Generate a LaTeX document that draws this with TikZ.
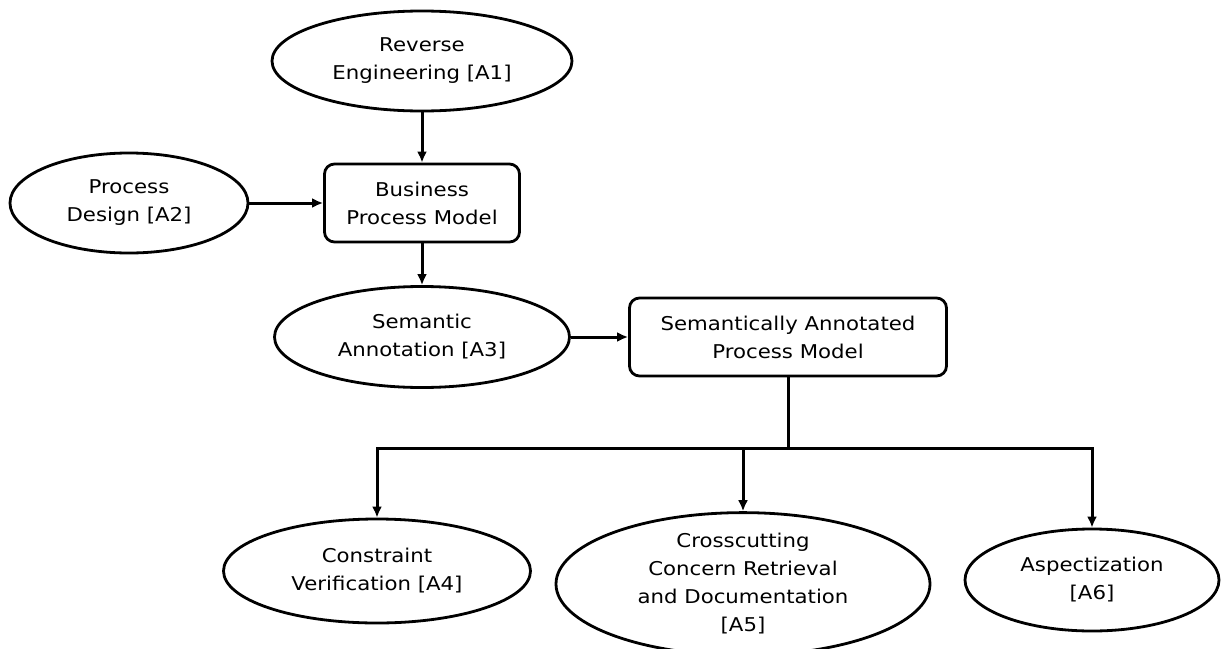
\documentclass[tikz,border=0pt]{standalone}
\usepackage{fontspec}
\setmainfont{DejaVu Sans}[FakeStretch=1.12]
\usetikzlibrary{shapes.geometric,arrows.meta}
\begin{document}
\begin{tikzpicture}[x=1pt,y=-1pt,
  every node/.style={align=center,inner sep=0pt,line width=2.8pt,draw=black,
    font=\fontsize{19pt}{28pt}\selectfont,
    execute at begin node={\rule{0pt}{22pt}}},
  activity/.style={ellipse},
  artefact/.style={rectangle,rounded corners=10pt},
  flow/.style={line width=3pt,-{Latex[length=11pt,width=10pt]}},
  plain/.style={line width=3pt}]
\useasboundingbox (0,0) rectangle (1221,648);

% activities (ellipses) and artefacts (rounded boxes)
\node[activity,minimum width=300pt,minimum height=100pt] (A1) at (422,61) {Reverse\\Engineering [A1]};
\node[activity,minimum width=238pt,minimum height=100pt] (A2) at (129,203) {Process\\Design [A2]};
\node[artefact,minimum width=195pt,minimum height=78pt] (BPM) at (422,203) {Business\\Process Model};
\node[activity,minimum width=295pt,minimum height=101pt] (A3) at (422,337) {Semantic\\Annotation [A3]};
\node[artefact,minimum width=317pt,minimum height=78pt] (SAPM) at (788,337) {Semantically Annotated\\Process Model};
\node[activity,minimum width=307pt,minimum height=104pt] (A4) at (377,571) {Constraint\\Verification [A4]};
\node[activity,minimum width=374pt,minimum height=130pt] (A5) at (743,584) {Crosscutting\\Concern Retrieval\\and Documentation\\{}[A5]};
\node[activity,minimum width=254pt,minimum height=102pt] (A6) at (1092,580) {Aspectization\\{}[A6]};

\coordinate (bus) at (788,448);

% connectors
\draw[flow] (A1) -- (BPM);
\draw[flow] (A2) -- (BPM);
\draw[flow] (BPM) -- (A3);
\draw[flow] (A3) -- (SAPM);
\draw[plain] (SAPM.south) -- (bus);
\draw[flow] (bus) -| (A4.north);
\draw[flow] (bus) -| (A6.north);
\draw[flow] (A5.north |- bus) -- (A5.north);
\end{tikzpicture}
\end{document}
